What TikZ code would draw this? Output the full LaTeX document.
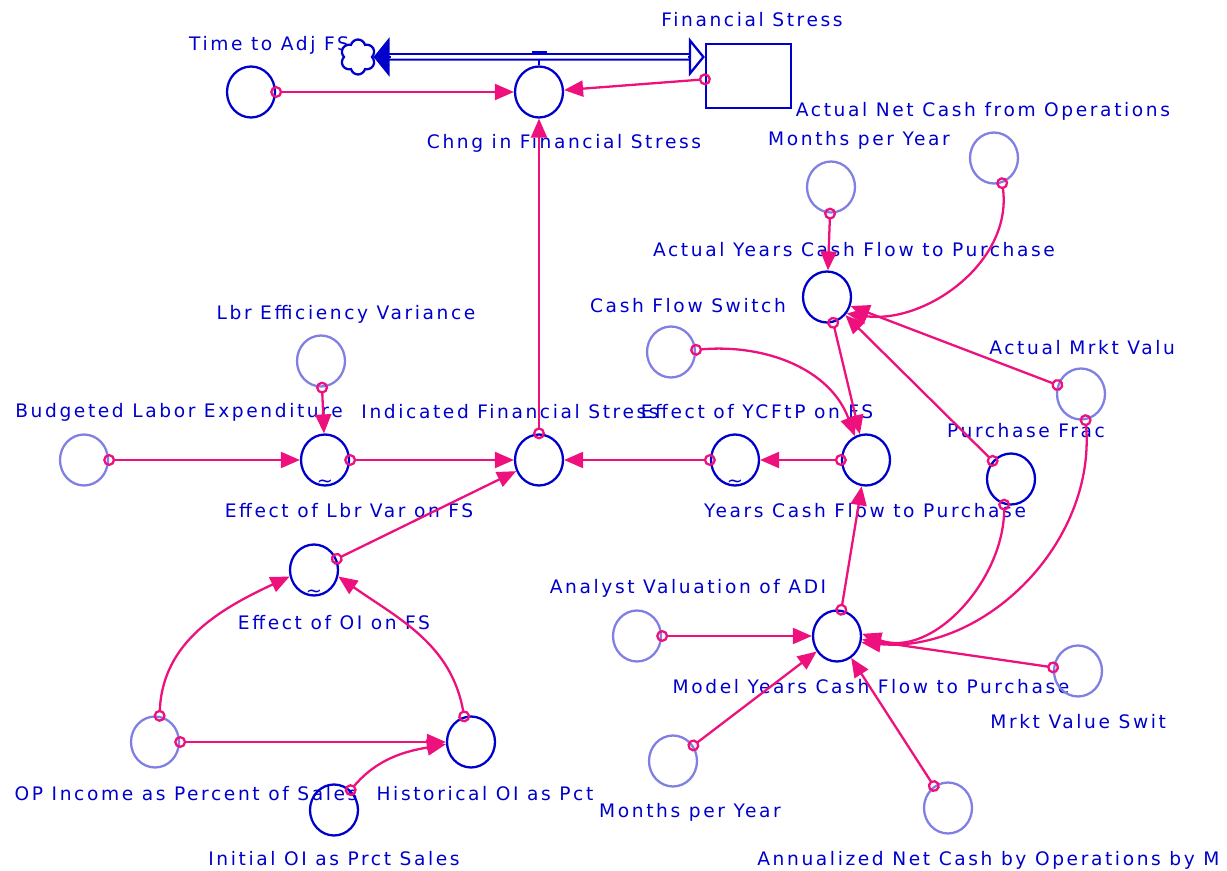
\documentclass[tikz,border=0pt]{standalone}
\usepackage{fontspec}
\setmainfont{DejaVu Sans}[LetterSpace=14]
\usepackage{tikz}
\usetikzlibrary{shapes.geometric,shapes.symbols,arrows.meta,positioning,calc}
\definecolor{vblue}{RGB}{0,0,204}
\definecolor{vlight}{RGB}{128,128,228}
\definecolor{vpink}{RGB}{238,16,124}

\begin{document}
\begin{tikzpicture}[x=0.02cm, y=0.02cm,
  font=\fontsize{10.6}{12}\selectfont,
  cv/.style={ellipse, draw=vblue, line width=1.3pt, minimum width=0.96cm,
             minimum height=1.02cm, inner sep=0pt},
  kv/.style={cv, draw=vlight},
  lbl/.style={text=vblue, inner sep=0pt},
  tld/.style={text=vblue, inner sep=0pt, font=\fontsize{11}{11}\selectfont},
  lnk/.style={vpink, line width=1.3pt, shorten <=-0.12cm,
              {Circle[open,length=0.24cm,width=0.24cm]}-{Triangle[length=0.38cm,width=0.32cm]}},
  pipe/.style={draw=vblue, line width=0.04cm, double=white, double distance=0.07cm},
  phead/.style={vblue, line width=1.3pt, -{Triangle[length=0.32cm,width=0.78cm]}},
  pheado/.style={vblue, line width=1.3pt, -{Triangle[open,length=0.32cm,width=0.78cm]}}
]
\useasboundingbox (0,0) rectangle (1227,-871);
\fill[white] (0,0) rectangle (1227,-871);

% Labels
\node[lbl] (lfs) at (752,-20) {Financial Stress};
\node[lbl] (ltime) at (269,-45) {Time to Adj FS};
\node[lbl] (lchng) at (564,-143) {Chng in Financial Stress};
\node[lbl] (lanco) at (983,-111) {Actual Net Cash from Operations};
\node[lbl] (lmpy) at (859,-140) {Months per Year};
\node[lbl] (laycf) at (854,-250) {Actual Years Cash Flow to Purchase};
\node[lbl] (lcfs) at (688,-306) {Cash Flow Switch};
\node[lbl, anchor=west] (lamv) at (989,-348) {Actual Mrkt Valu};
\node[lbl] (llev) at (346,-314) {Lbr Efficiency Variance};
\node[lbl] (lble) at (179,-412) {Budgeted Labor Expenditure};
\node[lbl] (lifs) at (510,-412) {Indicated Financial Stress};
\node[lbl] (lecf) at (757,-412) {Effect of YCFtP on FS};
\node[lbl] (lpf) at (1026,-431) {Purchase Frac};
\node[lbl] (lycf) at (865,-511) {Years Cash Flow to Purchase};
\node[lbl] (lelv) at (349,-511) {Effect of Lbr Var on FS};
\node[lbl] (leoi) at (334,-623) {Effect of OI on FS};
\node[lbl] (lava) at (688,-588) {Analyst Valuation of ADI};
\node[lbl] (lmycf) at (871,-687) {Model Years Cash Flow to Purchase};
\node[lbl, anchor=west] (lmvs) at (990,-722) {Mrkt Value Swit};
\node[lbl] (lopi) at (186,-794) {OP Income as Percent of Sales};
\node[lbl] (lhoi) at (485,-794) {Historical OI as Pct};
\node[lbl] (lmpy2) at (690,-812) {Months per Year};
\node[lbl] (lioi) at (334,-859) {Initial OI as Prct Sales};
\node[lbl, anchor=west] (lanc) at (757,-860) {Annualized Net Cash by Operations by M};

% Stock, flow and cloud
\node[draw=vblue, line width=1.3pt, minimum width=1.7cm, minimum height=1.28cm] (fs) at (748.5,-76) {};
\node[cloud, cloud puffs=6, aspect=1, draw=vblue, line width=1.3pt, fill=white,
      minimum width=0.7cm, minimum height=0.7cm, inner sep=0pt] (cloud) at (358,-57) {};
\node[cv] (chng) at (539,-92) {};
\coordinate (vlv) at (539,-57);
\draw[vblue, line width=1.3pt] (vlv) -- (chng);
\draw[pipe] ([xshift=0.3cm]cloud.east) -- ([xshift=-0.28cm]cloud -| fs.west);
\draw[phead] ([xshift=0.34cm]cloud.east) -- (cloud.east);
\draw[pheado] ([xshift=-0.34cm]cloud -| fs.west) -- (cloud -| fs.west);
\node[fill=vblue, minimum width=0.3cm, minimum height=0.08cm, inner sep=0pt] (bar) at (539,-53) {};

% Variables
\node[cv] (time) at (251,-92) {};
\node[kv] (anco) at (994,-158) {};
\node[kv] (mpy) at (831,-187) {};
\node[cv] (aycf) at (827,-297) {};
\node[kv] (cfs) at (671,-352) {};
\node[kv] (amv) at (1081,-394) {};
\node[cv] (pf) at (1011,-479) {};
\node[kv] (lev) at (321,-361) {};
\node[kv] (ble) at (84,-460) {};
\node[cv] (elv) at (325,-460) {};
\node[cv] (ifs) at (539,-460) {};
\node[cv] (ecf) at (735,-460) {};
\node[cv] (ycf) at (866,-460) {};
\node[cv] (eoi) at (314,-570) {};
\node[kv] (opi) at (155,-742) {};
\node[cv] (hoi) at (471,-742) {};
\node[cv] (ioi) at (334,-810) {};
\node[kv] (ava) at (637,-636) {};
\node[cv] (mycf) at (837,-636) {};
\node[kv] (mvs) at (1078,-671) {};
\node[kv] (mpy2) at (673,-761) {};
\node[kv] (anc) at (948,-808) {};

% Graphical functions
\node[tld] (elvt) at ([yshift=0.06cm]elv.south) {\textasciitilde};
\node[tld] (ecft) at ([yshift=0.06cm]ecf.south) {\textasciitilde};
\node[tld] (eoit) at ([yshift=0.06cm]eoi.south) {\textasciitilde};

% Links, top
\draw[lnk] (time) -- (chng);
\draw[lnk] (fs) -- (chng);
\draw[lnk] (ifs) -- (chng);

% Links, right
\draw[lnk] (mpy) -- (aycf);
\draw[lnk] (anco.-72) to[out=-82,in=-8] (aycf.-40);
\draw[lnk] (amv) -- (aycf);
\draw[lnk] (pf) -- (aycf);
\draw[lnk] (aycf) -- (ycf);
\draw[lnk] (cfs.5) to[out=5,in=110] (ycf.115);
\draw[lnk] (mycf) -- (ycf);
\draw[lnk] (amv.-80) to[out=-85,in=-5] (mycf.-15);
\draw[lnk] (pf.-105) to[out=-90,in=-20] (mycf.5);
\draw[lnk] (ava) -- (mycf);
\draw[lnk] (mpy2) -- (mycf);
\draw[lnk] (anc) -- (mycf);
\draw[lnk] (mvs) -- (mycf);

% Links, middle row
\draw[lnk] (ble) -- (elv);
\draw[lnk] (lev) -- (elv);
\draw[lnk] (elv) -- (ifs);
\draw[lnk] (ecf) -- (ifs);
\draw[lnk] (ycf) -- (ecf);
\draw[lnk] (eoi) -- (ifs);

% Links, bottom left
\draw[lnk] (opi.80) to[out=88,in=205] (eoi.195);
\draw[lnk] (hoi.105) to[out=100,in=-35] (eoi.-15);
\draw[lnk] (opi) -- (hoi);
\draw[lnk] (ioi.50) to[out=50,in=190] (hoi.185);
\end{tikzpicture}
\end{document}
